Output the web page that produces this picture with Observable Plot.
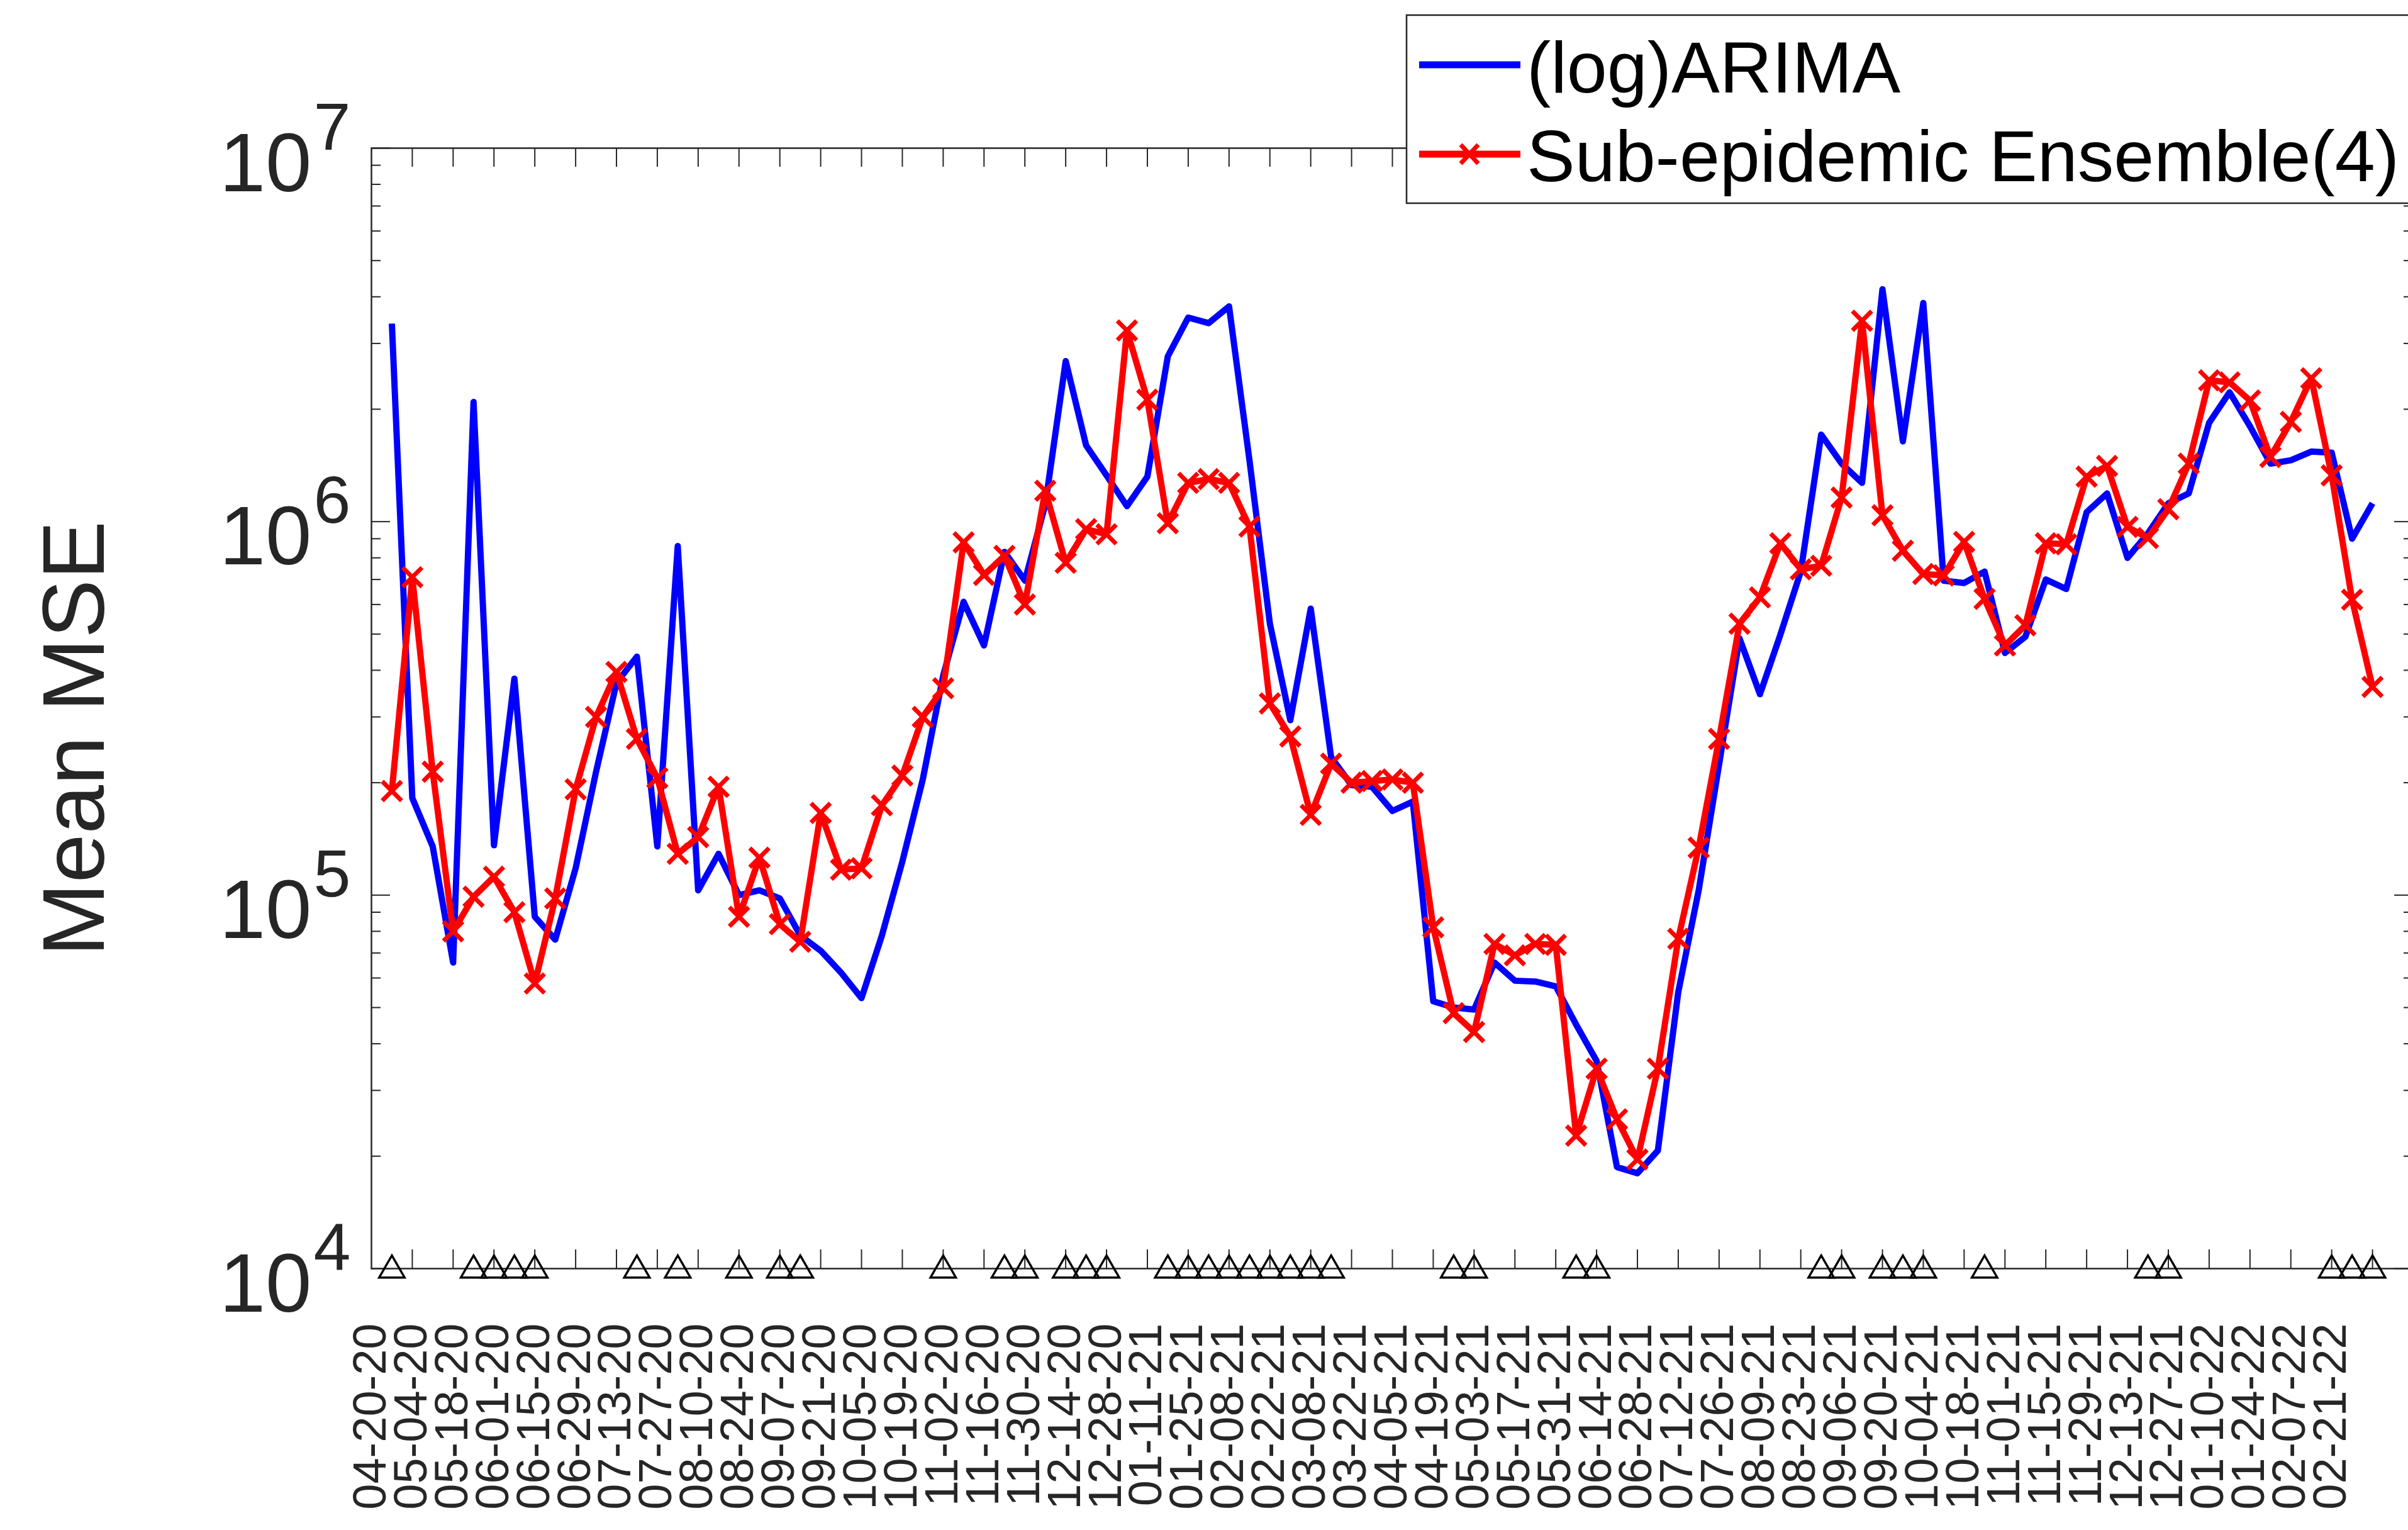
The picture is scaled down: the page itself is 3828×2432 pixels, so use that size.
<!DOCTYPE html>
<html>
<head>
<meta charset="utf-8">
<script src="https://cdn.jsdelivr.net/npm/d3@7"></script>
<script src="https://cdn.jsdelivr.net/npm/@observablehq/plot@0.6"></script>
<style>
  html, body { margin: 0; padding: 0; background: #ffffff; overflow: hidden; }
  #wrap { position: relative; width: 3828px; height: 2432px; overflow: hidden; background: #fff; }
  #wrap > svg { position: absolute; left: 0; top: 0; max-width: none !important; }
  #legend { position: absolute; left: 0; top: 0; pointer-events: none; }
</style>
</head>
<body>
<div id="wrap"></div>
<script>
// ---------------- data ----------------
const seriesNames = ["(log)ARIMA", "Sub-epidemic Ensemble(4)"];

// x tick labels: every second forecast week, starting at week 0
const tickLabels = [
  "04-20-20","05-04-20","05-18-20","06-01-20","06-15-20","06-29-20","07-13-20","07-27-20",
  "08-10-20","08-24-20","09-07-20","09-21-20","10-05-20","10-19-20","11-02-20","11-16-20",
  "11-30-20","12-14-20","12-28-20","01-11-21","01-25-21","02-08-21","02-22-21","03-08-21",
  "03-22-21","04-05-21","04-19-21","05-03-21","05-17-21","05-31-21","06-14-21","06-28-21",
  "07-12-21","07-26-21","08-09-21","08-23-21","09-06-21","09-20-21","10-04-21","10-18-21",
  "11-01-21","11-15-21","11-29-21","12-13-21","12-27-21","01-10-22","01-24-22","02-07-22",
  "02-21-22"
];

// Mean MSE per forecast week (98 weeks)
const arimaMSE = [
  3.39e6, 1.82e5, 1.35e5, 6.6e4, 2.09e6, 1.36e5, 3.8e5, 8.75e4, 7.6e4, 1.18e5,
  2.14e5, 3.7e5, 4.35e5, 1.35e5, 8.6e5, 1.03e5, 1.29e5, 1.0e5, 1.03e5, 9.8e4,
  7.8e4, 7.1e4, 6.2e4, 5.3e4, 7.8e4, 1.23e5, 2.04e5, 3.87e5, 6.1e5, 4.66e5,
  8.3e5, 6.95e5, 1.11e6, 2.69e6, 1.6e6, 1.33e6, 1.1e6, 1.32e6, 2.77e6, 3.52e6,
  3.4e6, 3.77e6, 1.46e6, 5.33e5, 2.94e5, 5.85e5, 2.34e5, 1.97e5, 1.95e5, 1.68e5,
  1.78e5, 5.2e4, 5.0e4, 4.94e4, 6.6e4, 5.9e4, 5.87e4, 5.7e4, 4.5e4, 3.6e4,
  1.87e4, 1.8e4, 2.07e4, 5.5e4, 1.03e5, 2.24e5, 4.87e5, 3.45e5, 4.98e5, 7.35e5,
  1.71e6, 1.43e6, 1.27e6, 4.19e6, 1.64e6, 3.85e6, 6.95e5, 6.85e5, 7.35e5, 4.45e5,
  4.92e5, 7.0e5, 6.6e5, 1.06e6, 1.19e6, 8.0e5, 9.3e5, 1.12e6, 1.19e6, 1.84e6,
  2.22e6, 1.8e6, 1.43e6, 1.46e6, 1.54e6, 1.53e6, 9.0e5, 1.12e6
];

const ensembleMSE = [
  1.9e5, 7.1e5, 2.14e5, 8.0e4, 9.9e4, 1.12e5, 9.0e4, 5.8e4, 9.8e4, 1.92e5,
  3.0e5, 3.96e5, 2.62e5, 2.06e5, 1.29e5, 1.43e5, 1.95e5, 8.75e4, 1.26e5, 8.36e4,
  7.5e4, 1.66e5, 1.17e5, 1.18e5, 1.74e5, 2.09e5, 3.0e5, 3.58e5, 8.8e5, 7.2e5,
  8.1e5, 6.0e5, 1.21e6, 7.76e5, 9.55e5, 9.25e5, 3.25e6, 2.12e6, 9.9e5, 1.27e6,
  1.3e6, 1.27e6, 9.7e5, 3.26e5, 2.66e5, 1.64e5, 2.25e5, 2.0e5, 2.02e5, 2.04e5,
  2.0e5, 8.2e4, 4.83e4, 4.3e4, 7.4e4, 6.9e4, 7.4e4, 7.36e4, 2.27e4, 3.43e4,
  2.51e4, 1.96e4, 3.43e4, 7.64e4, 1.34e5, 2.62e5, 5.33e5, 6.27e5, 8.75e5, 7.45e5,
  7.62e5, 1.16e6, 3.45e6, 1.04e6, 8.36e5, 7.24e5, 7.18e5, 8.83e5, 6.21e5, 4.66e5,
  5.28e5, 8.75e5, 8.7e5, 1.32e6, 1.41e6, 9.68e5, 9.04e5, 1.08e6, 1.43e6, 2.39e6,
  2.36e6, 2.11e6, 1.49e6, 1.85e6, 2.42e6, 1.33e6, 6.18e5, 3.61e5
];

// weeks marked with a triangle on the x axis
const markedWeeks = [0,4,5,6,7,12,14,17,19,20,27,30,31,33,34,35,38,39,40,41,42,43,44,45,46,
  52,53,58,59,70,71,73,74,75,78,86,87,95,96,97];

const yDecades = [1e4, 1e5, 1e6, 1e7];

// ---------------- layout / style ----------------
const W = 3840, H = 2432;
const mL = 590, mR = 4, mT = 235, mB = 416;
const plotW = W - mL - mR, plotH = H - mT - mB;
const axisCol = "#262626";
const font = "'Liberation Sans', Arial, Helvetica, sans-serif";

const rows = arimaMSE.map((v, i) => ({week: i, arima: v, ens: ensembleMSE[i]}));
const minorTicks = [];
for (const d of [1e4, 1e5, 1e6]) for (let k = 2; k <= 9; k++) minorTicks.push(k * d);
const xTickWeeks = d3.range(1, rows.length, 2);
const labelRows = tickLabels.map((t, k) => ({week: 2 * k, label: t}));

const chart = Plot.plot({
  width: W, height: H,
  marginLeft: mL, marginRight: mR, marginTop: mT, marginBottom: mB,
  x: {type: "linear", domain: [-1, 99], axis: null},
  y: {type: "log", domain: [1e4, 1e7], axis: null},
  style: {fontFamily: font, background: "white", overflow: "visible", maxWidth: "none"},
  marks: [
    // inward ticks (left / right / bottom / top)
    Plot.ruleY(yDecades, {y: d => d, insetRight: plotW - 30, stroke: axisCol, strokeWidth: 2}),
    Plot.ruleY(yDecades, {y: d => d, insetLeft: plotW - 30, stroke: axisCol, strokeWidth: 2}),
    Plot.ruleY(minorTicks, {y: d => d, insetRight: plotW - 15, stroke: axisCol, strokeWidth: 2}),
    Plot.ruleY(minorTicks, {y: d => d, insetLeft: plotW - 15, stroke: axisCol, strokeWidth: 2}),
    Plot.ruleX(xTickWeeks, {x: d => d, insetTop: plotH - 30, stroke: axisCol, strokeWidth: 2}),
    Plot.ruleX(xTickWeeks, {x: d => d, insetBottom: plotH - 30, stroke: axisCol, strokeWidth: 2}),
    // series
    Plot.line(rows, {x: "week", y: "arima", stroke: "#0000ff", strokeWidth: 10,
      strokeLinejoin: "round", strokeLinecap: "butt"}),
    Plot.line(rows, {x: "week", y: "ens", stroke: "#ff0000", strokeWidth: 10,
      strokeLinejoin: "round", strokeLinecap: "butt"}),
    Plot.dot(rows, {x: "week", y: "ens", symbol: "times", r: 14, stroke: "#ff0000", strokeWidth: 7}),
    // frame
    Plot.frame({stroke: axisCol, strokeWidth: 2.5}),
    // triangles at the bottom
    Plot.dot(markedWeeks, {x: d => d, y: () => 1e4, symbol: "triangle", r: 15, dy: 2.5,
      stroke: "#000000", fill: "none", strokeWidth: 3.5}),
    // y tick labels 10^n
    Plot.text(yDecades, {y: d => d, text: () => "10", frameAnchor: "left", textAnchor: "end",
      lineAnchor: "bottom", dx: -95, dy: 68, fontSize: 132, fill: axisCol}),
    Plot.text(yDecades, {y: d => d, text: d => String(Math.round(Math.log10(d))), frameAnchor: "left",
      textAnchor: "start", lineAnchor: "bottom", dx: -92, dy: 2, fontSize: 106, fill: axisCol}),
    // x tick labels
    Plot.text(labelRows, {x: "week", text: "label", frameAnchor: "bottom", rotate: -90,
      textAnchor: "end", dy: 87, dx: -10, fontSize: 74, fill: axisCol}),
    // y axis title
    Plot.text(["Mean MSE"], {text: d => d, frameAnchor: "left", rotate: -90, textAnchor: "middle",
      lineAnchor: "bottom", dx: 164 - mL, dy: 48, fontSize: 140, fill: axisCol})
  ]
});
chart.style.maxWidth = "none";
chart.setAttribute("width", W);
chart.setAttribute("height", H);
chart.style.width = W + "px";
chart.style.height = H + "px";
document.getElementById("wrap").appendChild(chart);

// ---------------- legend (overlay, top right) ----------------
const leg = d3.select("#wrap").append("svg")
  .attr("id", "legend").attr("width", 3828).attr("height", 340)
  .style("font-family", font);
leg.append("rect").attr("x", 2236).attr("y", 24).attr("width", 1620).attr("height", 299)
  .attr("fill", "#ffffff").attr("stroke", axisCol).attr("stroke-width", 2.5);
const legColors = ["#0000ff", "#ff0000"];
const legY = [103, 245];
const legBase = [147, 288];
seriesNames.forEach((name, k) => {
  leg.append("line").attr("x1", 2256).attr("x2", 2417).attr("y1", legY[k]).attr("y2", legY[k])
    .attr("stroke", legColors[k]).attr("stroke-width", 11);
  if (k === 1) {
    leg.append("path").attr("d", "M-14,-15L14,15M-14,15L14,-15")
      .attr("transform", `translate(2336,${legY[k]})`)
      .attr("stroke", legColors[k]).attr("stroke-width", 7).attr("fill", "none");
  }
  leg.append("text").attr("x", 2427).attr("y", legBase[k]).attr("font-size", 115)
    .attr("fill", "#000000").text(name);
});
</script>
</body>
</html>
